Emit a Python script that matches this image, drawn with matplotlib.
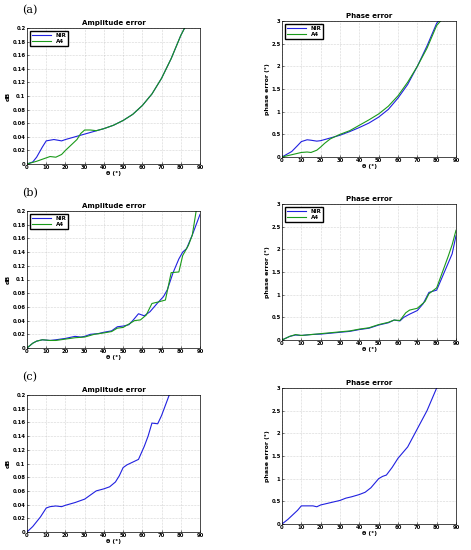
import numpy as np
import matplotlib
matplotlib.use('Agg')
import matplotlib.pyplot as plt

# (a) amplitude error
a_amp_nir_x = [0, 3, 5, 8, 10, 12, 14, 16, 18, 20, 25, 30, 35, 40, 45, 50, 55, 60, 65, 70, 75, 80, 82]
a_amp_nir_y = [0, 0.003, 0.01, 0.025, 0.034, 0.035, 0.036, 0.035, 0.034, 0.036, 0.04, 0.044, 0.048,
               0.052, 0.057, 0.064, 0.073, 0.086, 0.103, 0.126, 0.155, 0.189, 0.2]
a_amp_a4_x = [0, 5, 10, 12, 15, 18, 20, 23, 26, 28, 30, 33, 36, 40, 45, 50, 55, 60, 65, 70, 75, 80, 82]
a_amp_a4_y = [0, 0.004, 0.009, 0.011, 0.01, 0.014, 0.02, 0.028, 0.036, 0.045, 0.05, 0.05, 0.049,
              0.052, 0.057, 0.064, 0.073, 0.086, 0.103, 0.126, 0.155, 0.189, 0.2]

# (a) phase error
a_ph_nir_x = [0, 5, 8, 10, 13, 15, 18, 20, 25, 30, 35, 40, 45, 50, 55, 60, 65, 70, 75, 80, 81]
a_ph_nir_y = [0, 0.12, 0.25, 0.34, 0.38, 0.37, 0.35, 0.36, 0.42, 0.48, 0.56, 0.65, 0.75, 0.88,
              1.05, 1.3, 1.6, 2.0, 2.45, 2.95, 3.0]
a_ph_a4_x = [0, 5, 10, 13, 15, 18, 20, 22, 25, 30, 35, 40, 45, 50, 55, 60, 65, 70, 75, 80, 82]
a_ph_a4_y = [0, 0.05, 0.1, 0.11, 0.1, 0.15, 0.22, 0.3, 0.4, 0.5, 0.58, 0.7, 0.82, 0.95,
             1.12, 1.35, 1.65, 2.0, 2.4, 2.9, 3.0]

# (b) amplitude error
b_amp_nir_x = [0, 3, 5, 8, 12, 15, 20, 25, 28, 30, 33, 37, 40, 44, 47, 50, 53, 55, 58, 61, 64,
               68, 71, 73, 76, 79, 81, 83, 86, 88, 90]
b_amp_nir_y = [0, 0.007, 0.01, 0.012, 0.011, 0.012, 0.014, 0.017, 0.016, 0.017, 0.02, 0.021,
               0.023, 0.025, 0.031, 0.032, 0.034, 0.04, 0.05, 0.047, 0.053, 0.066, 0.075, 0.085,
               0.11, 0.13, 0.14, 0.145, 0.165, 0.18, 0.195]
b_amp_a4_x = [0, 3, 5, 8, 12, 15, 20, 25, 30, 35, 40, 44, 47, 50, 53, 56, 59, 62, 65, 68, 72,
              75, 79, 81, 84, 86, 88]
b_amp_a4_y = [0, 0.007, 0.01, 0.012, 0.011, 0.011, 0.013, 0.015, 0.016, 0.02, 0.022, 0.024,
              0.029, 0.03, 0.035, 0.04, 0.041, 0.048, 0.065, 0.067, 0.07, 0.11, 0.111, 0.135,
              0.15, 0.165, 0.2]

# (b) phase error
b_ph_nir_x = [0, 4, 7, 10, 15, 20, 25, 30, 35, 40, 45, 50, 55, 58, 61, 63, 66, 70, 73, 76, 80,
              83, 86, 88, 90]
b_ph_nir_y = [0, 0.08, 0.11, 0.1, 0.12, 0.13, 0.15, 0.17, 0.19, 0.23, 0.26, 0.33, 0.38, 0.44,
              0.42, 0.5, 0.57, 0.65, 0.8, 1.05, 1.1, 1.4, 1.7, 1.9, 2.3]
b_ph_a4_x = [0, 4, 7, 10, 15, 20, 25, 30, 35, 40, 45, 50, 55, 58, 61, 64, 66, 70, 74, 76, 80,
             83, 86, 88, 90]
b_ph_a4_y = [0, 0.08, 0.12, 0.1, 0.12, 0.14, 0.16, 0.18, 0.2, 0.24, 0.27, 0.34, 0.39, 0.44,
             0.43, 0.6, 0.66, 0.7, 0.85, 1.02, 1.15, 1.5, 1.85, 2.1, 2.42]

# (c) amplitude error
c_amp_x = [0, 3, 7, 10, 12, 15, 18, 20, 25, 30, 33, 36, 40, 43, 46, 48, 50, 52, 55, 58, 61, 63,
           65, 68, 70, 72, 74]
c_amp_y = [0, 0.008, 0.022, 0.035, 0.037, 0.038, 0.037, 0.039, 0.043, 0.048, 0.054, 0.06, 0.063,
           0.066, 0.073, 0.082, 0.094, 0.098, 0.102, 0.106, 0.125, 0.14, 0.159, 0.158, 0.17,
           0.185, 0.2]

# (c) phase error
c_ph_x = [0, 3, 6, 8, 10, 13, 16, 18, 20, 25, 30, 33, 36, 40, 43, 46, 48, 50, 52, 54, 57, 60,
          65, 70, 75, 80]
c_ph_y = [0, 0.1, 0.22, 0.3, 0.4, 0.4, 0.4, 0.38, 0.42, 0.47, 0.52, 0.57, 0.6, 0.65, 0.7, 0.8,
          0.9, 1.0, 1.05, 1.08, 1.25, 1.45, 1.7, 2.1, 2.5, 3.0]

BLUE = '#2020e0'
GREEN = '#1a9a1a'
W, H = 471, 550

fig = plt.figure(figsize=(W / 100, H / 100), dpi=100)


def mkax(x0, x1, ytop, ybot):
    return fig.add_axes([x0 / W, 1 - ybot / H, (x1 - x0) / W, (ybot - ytop) / H])


def style(ax, kind):
    ax.set_xlim(0, 90)
    ax.set_xticks(np.arange(0, 91, 10))
    if kind == 'amp':
        ax.set_ylim(0, 0.2)
        ax.set_yticks(np.arange(0, 0.201, 0.02))
        ax.set_yticklabels(['0', '0.02', '0.04', '0.06', '0.08', '0.1', '0.12', '0.14',
                            '0.16', '0.18', '0.2'])
        ax.set_ylabel('dB', fontsize=4.5, fontweight='bold', labelpad=1)
        ax.set_title('Amplitude error', fontsize=5, fontweight='bold', pad=2)
    else:
        ax.set_ylim(0, 3)
        ax.set_yticks(np.arange(0, 3.01, 0.5))
        ax.set_yticklabels(['0', '0.5', '1', '1.5', '2', '2.5', '3'])
        ax.set_ylabel('phase error (\u00b0)', fontsize=4.5, fontweight='bold', labelpad=1)
        ax.set_title('Phase error', fontsize=5, fontweight='bold', pad=2)
    ax.set_xlabel('\u03b8 (\u00b0)', fontsize=4.5, fontweight='bold', labelpad=0.5)
    ax.tick_params(labelsize=3.8, length=1.5, width=0.4, pad=1, direction='in')
    for lbl in ax.get_xticklabels() + ax.get_yticklabels():
        lbl.set_fontweight('bold')
    ax.grid(True, linestyle=':', linewidth=0.4, color='#b0b0b0')
    for s in ax.spines.values():
        s.set_linewidth(0.5)


def leg(ax):
    ax.legend(loc='upper left', fontsize=4, prop={'size': 4, 'weight': 'bold'},
              fancybox=False, edgecolor='black', framealpha=1, handlelength=3.5,
              borderpad=0.3, labelspacing=0.2, borderaxespad=0.6)


axes = {}
axes['a1'] = mkax(27, 200, 28, 164)
axes['a2'] = mkax(282, 456, 21, 157)
axes['b1'] = mkax(27, 200, 211, 348)
axes['b2'] = mkax(282, 456, 204, 340)
axes['c1'] = mkax(27, 200, 395, 532)
axes['c2'] = mkax(282, 456, 388, 524)

ax = axes['a1']
ax.plot(a_amp_nir_x, a_amp_nir_y, color=BLUE, lw=0.8, label='NIR')
ax.plot(a_amp_a4_x, a_amp_a4_y, color=GREEN, lw=0.8, label='A4')
style(ax, 'amp')
leg(ax)

ax = axes['a2']
ax.plot(a_ph_nir_x, a_ph_nir_y, color=BLUE, lw=0.8, label='NIR')
ax.plot(a_ph_a4_x, a_ph_a4_y, color=GREEN, lw=0.8, label='A4')
style(ax, 'ph')
leg(ax)

ax = axes['b1']
ax.plot(b_amp_nir_x, b_amp_nir_y, color=BLUE, lw=0.8, label='NIR')
ax.plot(b_amp_a4_x, b_amp_a4_y, color=GREEN, lw=0.8, label='A4')
style(ax, 'amp')
leg(ax)

ax = axes['b2']
ax.plot(b_ph_nir_x, b_ph_nir_y, color=BLUE, lw=0.8, label='NIR')
ax.plot(b_ph_a4_x, b_ph_a4_y, color=GREEN, lw=0.8, label='A4')
style(ax, 'ph')
leg(ax)

ax = axes['c1']
ax.plot(c_amp_x, c_amp_y, color=BLUE, lw=0.8)
style(ax, 'amp')

ax = axes['c2']
ax.plot(c_ph_x, c_ph_y, color=BLUE, lw=0.8)
style(ax, 'ph')

fig.text(22 / W, 1 - 10 / H, '(a)', fontsize=8, family='DejaVu Serif', va='center')
fig.text(22 / W, 1 - 193 / H, '(b)', fontsize=8, family='DejaVu Serif', va='center')
fig.text(22 / W, 1 - 377 / H, '(c)', fontsize=8, family='DejaVu Serif', va='center')

fig.savefig('out.png', dpi=100)
